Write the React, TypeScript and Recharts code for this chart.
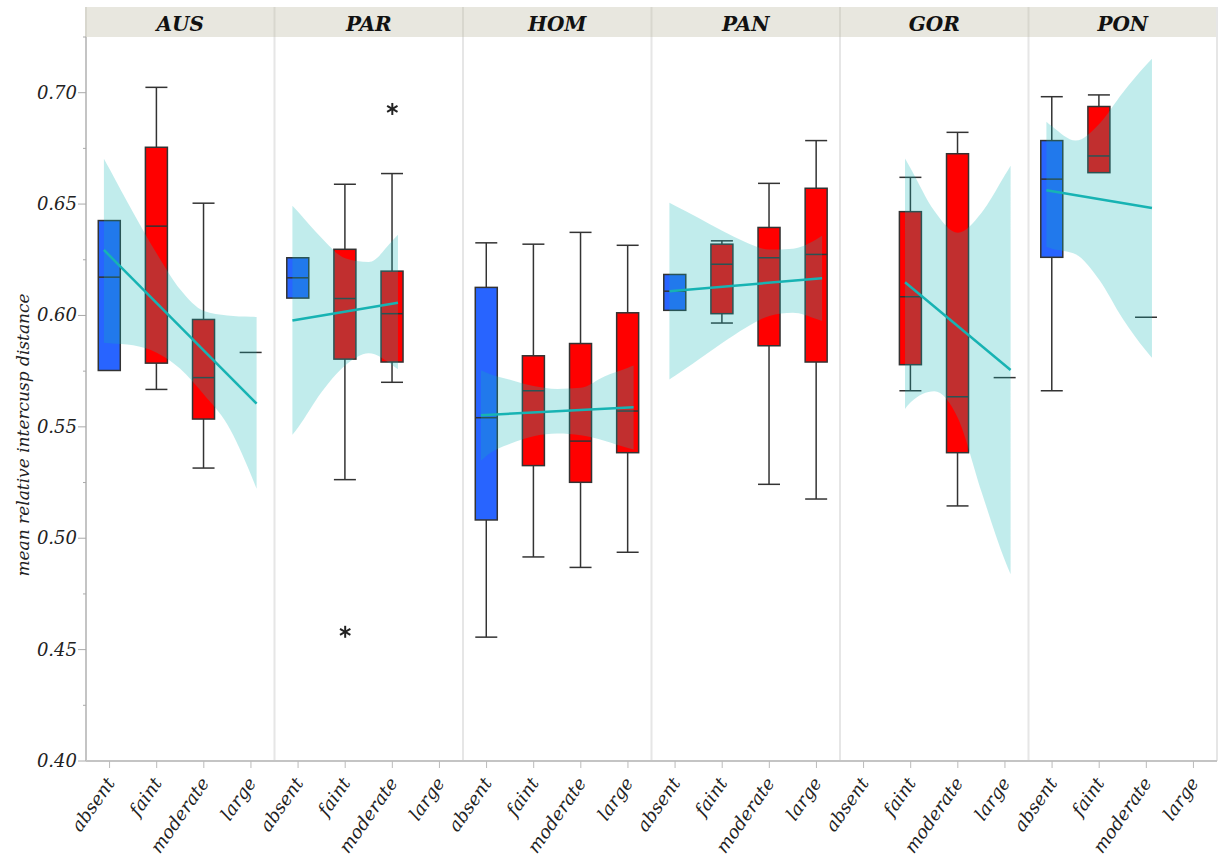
import React from 'react';
import {
  ComposedChart,
  Bar,
  Area,
  Line,
  Scatter,
  XAxis,
  YAxis,
  ReferenceArea,
  Label,
} from 'recharts';

const PANELS = ['AUS', 'PAR', 'HOM', 'PAN', 'GOR', 'PON'];
const LEVELS = ['absent', 'faint', 'moderate', 'large'];

// [low whisker, q1, median, q3, high whisker], null where a level has no specimens
type Box = number[] | null;
const AUS_BOXES: Box[] = [
  [0.5753, 0.5753, 0.6172, 0.6426, 0.6426],
  [0.5668, 0.5786, 0.6401, 0.6755, 0.7024],
  [0.5315, 0.5535, 0.5721, 0.5982, 0.6504],
  [0.5834, 0.5834, 0.5834, 0.5834, 0.5834],
];
const PAR_BOXES: Box[] = [
  [0.6078, 0.6078, 0.6169, 0.6259, 0.6259],
  [0.5263, 0.5804, 0.6076, 0.6297, 0.6589],
  [0.57, 0.5791, 0.6008, 0.6199, 0.6637],
  null,
];
const HOM_BOXES: Box[] = [
  [0.4556, 0.5082, 0.5541, 0.6126, 0.6326],
  [0.4916, 0.5326, 0.5662, 0.5819, 0.632],
  [0.4869, 0.5251, 0.5436, 0.5874, 0.6373],
  [0.4937, 0.5384, 0.5571, 0.6012, 0.6315],
];
const PAN_BOXES: Box[] = [
  [0.6023, 0.6023, 0.6109, 0.6184, 0.6184],
  [0.5966, 0.6008, 0.623, 0.632, 0.6335],
  [0.5242, 0.5864, 0.6259, 0.6395, 0.6593],
  [0.5176, 0.5791, 0.6274, 0.6571, 0.6785],
];
const GOR_BOXES: Box[] = [
  null,
  [0.5662, 0.5779, 0.6084, 0.6466, 0.662],
  [0.5145, 0.5384, 0.5635, 0.6726, 0.6822],
  [0.5721, 0.5721, 0.5721, 0.5721, 0.5721],
];
const PON_BOXES: Box[] = [
  [0.5662, 0.6261, 0.6612, 0.6785, 0.6982],
  [0.6641, 0.6641, 0.6716, 0.6938, 0.699],
  [0.5992, 0.5992, 0.5992, 0.5992, 0.5992],
  null,
];
const BOXES = [AUS_BOXES, PAR_BOXES, HOM_BOXES, PAN_BOXES, GOR_BOXES, PON_BOXES];

// outliers: panel index, level index, value
const OUTLIERS = [
  [1, 1, 0.458],
  [1, 2, 0.6927],
];

// fitted line + confidence band, sampled along the level axis (level units)
const AT_ALL = [-0.12, 0, 0.5, 1, 1.5, 2, 2.5, 3, 3.12];
const AT_FIRST3 = [-0.12, 0, 0.5, 1, 1.5, 2, 2.12];
const AT_LAST3 = [0.88, 1, 1.5, 2, 2.5, 3, 3.12];
const BAND_AT = [AT_ALL, AT_FIRST3, AT_ALL, AT_ALL, AT_LAST3, AT_FIRST3];
const BAND_HI = [
  [0.6704, 0.6657, 0.6462, 0.6278, 0.6116, 0.602, 0.6, 0.5994, 0.5993],
  [0.6493, 0.6465, 0.6348, 0.6257, 0.624, 0.6335, 0.6362],
  [0.5754, 0.5743, 0.5711, 0.5683, 0.567, 0.5675, 0.5726, 0.5765, 0.5775],
  [0.6506, 0.6492, 0.6438, 0.638, 0.6329, 0.6296, 0.63, 0.6342, 0.6358],
  [0.6705, 0.666, 0.647, 0.6371, 0.646, 0.663, 0.6672],
  [0.687, 0.6849, 0.6785, 0.686, 0.7, 0.7125, 0.7152],
];
const BAND_LO = [
  [0.5878, 0.5875, 0.5866, 0.5833, 0.5761, 0.5645, 0.551, 0.5285, 0.5222],
  [0.5464, 0.5497, 0.5656, 0.5775, 0.583, 0.5777, 0.5758],
  [0.5348, 0.537, 0.5424, 0.5458, 0.547, 0.5462, 0.5438, 0.5405, 0.5398],
  [0.5713, 0.5729, 0.5802, 0.5876, 0.5945, 0.5998, 0.6012, 0.5984, 0.5975],
  [0.558, 0.561, 0.566, 0.554, 0.521, 0.49, 0.4838],
  [0.6307, 0.63, 0.6275, 0.616, 0.5985, 0.584, 0.581],
];
// fitted value at the first and last band position
const FIT = [
  [0.6294, 0.5604],
  [0.5977, 0.6057],
  [0.5552, 0.5588],
  [0.6109, 0.6167],
  [0.6149, 0.5755],
  [0.6562, 0.6482],
];

const Y_MIN = 0.4;
const Y_MAX = 0.725;
const Y_TICKS = [0.4, 0.425, 0.45, 0.475, 0.5, 0.525, 0.55, 0.575, 0.6, 0.625, 0.65, 0.675, 0.7, 0.725];

const BLUE = '#2864ff';
const RED = '#ff0000';
const EDGE = '#333333';
const TEAL = '#17b3b3';
const SERIF = '"DejaVu Serif", serif';
const BOX_W = 22;

const xOf = (panel: number, pos: number) => panel * LEVELS.length + pos + 0.5;
const X_TICKS = PANELS.flatMap((_, p) => LEVELS.map((_, c) => xOf(p, c)));

type Row = { x: number; [key: string]: any };
const rowMap = new Map<string, Row>();
const rowAt = (x: number) => {
  const key = x.toFixed(3);
  let r = rowMap.get(key);
  if (!r) {
    r = { x: Number(key) };
    rowMap.set(key, r);
  }
  return r;
};
PANELS.forEach((_, p) => {
  BOXES[p].forEach((b, c) => {
    if (!b) return;
    const r = rowAt(xOf(p, c));
    r.box = b;
    r.level = c;
    r.span = [Y_MIN, b[4]];
  });
  const at = BAND_AT[p];
  at.forEach((pos, i) => {
    rowAt(xOf(p, pos))[`band${p}`] = [BAND_LO[p][i], BAND_HI[p][i]];
  });
  rowAt(xOf(p, at[0]))[`fit${p}`] = FIT[p][0];
  rowAt(xOf(p, at[at.length - 1]))[`fit${p}`] = FIT[p][1];
});
const ROWS = [...rowMap.values()].sort((a, b) => a.x - b.x);
const OUTLIER_ROWS = OUTLIERS.map(([p, c, v]) => ({ x: xOf(p, c), y: v }));

function BoxShape(props: any) {
  const { x, y, width, height, payload } = props;
  const b = payload && payload.box;
  if (!b || !Number.isFinite(y) || !Number.isFinite(height) || height <= 0) return null;
  const [lo, q1, med, q3, hi] = b;
  const k = height / (hi - Y_MIN);
  const py = (v: number) => y + (hi - v) * k;
  const cx = x + (Number.isFinite(width) ? width / 2 : 0);
  const h = BOX_W / 2;
  const line = { stroke: EDGE, strokeWidth: 1.5 };
  if (q3 - q1 < 1e-6) {
    return <line x1={cx - h} x2={cx + h} y1={py(med)} y2={py(med)} {...line} />;
  }
  return (
    <g>
      {hi > q3 && <line x1={cx} x2={cx} y1={py(hi)} y2={py(q3)} {...line} />}
      {hi > q3 && <line x1={cx - h} x2={cx + h} y1={py(hi)} y2={py(hi)} {...line} />}
      {lo < q1 && <line x1={cx} x2={cx} y1={py(q1)} y2={py(lo)} {...line} />}
      {lo < q1 && <line x1={cx - h} x2={cx + h} y1={py(lo)} y2={py(lo)} {...line} />}
      <rect
        x={cx - h}
        y={py(q3)}
        width={BOX_W}
        height={py(q1) - py(q3)}
        fill={payload.level === 0 ? BLUE : RED}
        {...line}
      />
      <line x1={cx - h} x2={cx + h} y1={py(med)} y2={py(med)} {...line} />
    </g>
  );
}

function Asterisk(props: any) {
  const { cx, cy } = props;
  if (!Number.isFinite(cx) || !Number.isFinite(cy)) return null;
  const r = 6;
  const dx = r * Math.sin(Math.PI / 3);
  const dy = r * Math.cos(Math.PI / 3);
  return (
    <g stroke="#222" strokeWidth={2}>
      <line x1={cx} x2={cx} y1={cy - r} y2={cy + r} />
      <line x1={cx - dx} x2={cx + dx} y1={cy - dy} y2={cy + dy} />
      <line x1={cx - dx} x2={cx + dx} y1={cy + dy} y2={cy - dy} />
    </g>
  );
}

function PanelFrame(props: any) {
  const { x, y, width, height, name, last } = props;
  return (
    <g>
      <rect x={x} y={y - 30} width={width} height={30} fill="#e8e7df" />
      <line x1={x} x2={x} y1={y} y2={y + height} stroke="#e6e6e6" strokeWidth={2} />
      <line x1={x} x2={x} y1={y - 30} y2={y} stroke="#d8d7ce" strokeWidth={2} />
      {last && <line x1={x + width} x2={x + width} y1={y - 30} y2={y + height} stroke="#e6e6e6" strokeWidth={2} />}
      <text
        x={x + width / 2}
        y={y - 6}
        textAnchor="middle"
        fontFamily={SERIF}
        fontStyle="italic"
        fontWeight="bold"
        fontSize={20}
        fill="#111"
      >
        {name}
      </text>
    </g>
  );
}

function LevelTick(props: any) {
  const { x, y, payload } = props;
  const name = LEVELS[Math.floor(payload.value) % LEVELS.length];
  return (
    <text
      transform={`translate(${x + 6},${y + 13}) rotate(-55)`}
      textAnchor="end"
      fontFamily={SERIF}
      fontStyle="italic"
      fontSize={18}
      fill="#222"
    >
      {name}
    </text>
  );
}

function ValueTick(props: any) {
  const { x, y, payload } = props;
  const v = payload.value;
  const major = Math.round(v * 1000) % 50 === 0;
  return (
    <g>
      <line x1={x + (major ? 0 : 5)} x2={x + 8} y1={y} y2={y} stroke="#aaa" />
      {major && (
        <text
          x={x - 1}
          y={y}
          dy={6}
          textAnchor="end"
          fontFamily={SERIF}
          fontStyle="italic"
          fontSize={18}
          fill="#222"
        >
          {v.toFixed(2)}
        </text>
      )}
    </g>
  );
}

function AxisTitle(props: any) {
  const vb = props.viewBox || { x: 0, y: 37, width: 86, height: 724 };
  const cy = vb.y + vb.height / 2 + 36;
  return (
    <text
      transform={`translate(${vb.x + 29},${cy}) rotate(-90)`}
      textAnchor="middle"
      fontFamily={SERIF}
      fontStyle="italic"
      fontSize={17}
      fill="#222"
    >
      mean relative intercusp distance
    </text>
  );
}

export default function App() {
  return (
    <div style={{ position: 'absolute', left: 0, top: 0, background: '#fff' }}>
      <ComposedChart
        width={1220}
        height={860}
        data={ROWS}
        margin={{ top: 37, right: 3, bottom: 0, left: 0 }}
      >
        <XAxis
          dataKey="x"
          type="number"
          domain={[0, PANELS.length * LEVELS.length]}
          ticks={X_TICKS}
          interval={0}
          height={99}
          tickSize={7}
          tickMargin={2}
          tickLine={{ stroke: '#bbb' }}
          axisLine={{ stroke: '#c4c4c4', strokeWidth: 2 }}
          tick={(p: any) => <LevelTick {...p} />}
          allowDataOverflow
        />
        <YAxis
          type="number"
          domain={[Y_MIN, Y_MAX]}
          ticks={Y_TICKS}
          interval={0}
          width={86}
          tickSize={8}
          tickMargin={0}
          tickLine={false}
          axisLine={{ stroke: '#c4c4c4', strokeWidth: 2 }}
          tick={(p: any) => <ValueTick {...p} />}
          allowDataOverflow
        >
          <Label content={(p: any) => <AxisTitle {...p} />} />
        </YAxis>
        {PANELS.map((name, p) => (
          <ReferenceArea
            key={name}
            x1={p * LEVELS.length}
            x2={(p + 1) * LEVELS.length}
            zIndex={0}
            shape={(sp: any) => <PanelFrame {...sp} name={name} last={p === PANELS.length - 1} />}
          />
        ))}
        <Bar
          dataKey="span"
          barSize={BOX_W}
          zIndex={300}
          shape={(sp: any) => <BoxShape {...sp} />}
          isAnimationActive={false}
        />
        {PANELS.map((name, p) => (
          <Area
            key={`band-${name}`}
            dataKey={`band${p}`}
            type="monotone"
            connectNulls
            stroke="none"
            fill="rgb(15,182,182)"
            fillOpacity={0.26}
            dot={false}
            activeDot={false}
            zIndex={350}
            isAnimationActive={false}
          />
        ))}
        {PANELS.map((name, p) => (
          <Line
            key={`fit-${name}`}
            dataKey={`fit${p}`}
            connectNulls
            stroke={TEAL}
            strokeWidth={2.5}
            dot={false}
            activeDot={false}
            zIndex={400}
            isAnimationActive={false}
          />
        ))}
        <Scatter
          data={OUTLIER_ROWS}
          dataKey="y"
          zIndex={600}
          shape={(sp: any) => <Asterisk {...sp} />}
          isAnimationActive={false}
        />
      </ComposedChart>
    </div>
  );
}
